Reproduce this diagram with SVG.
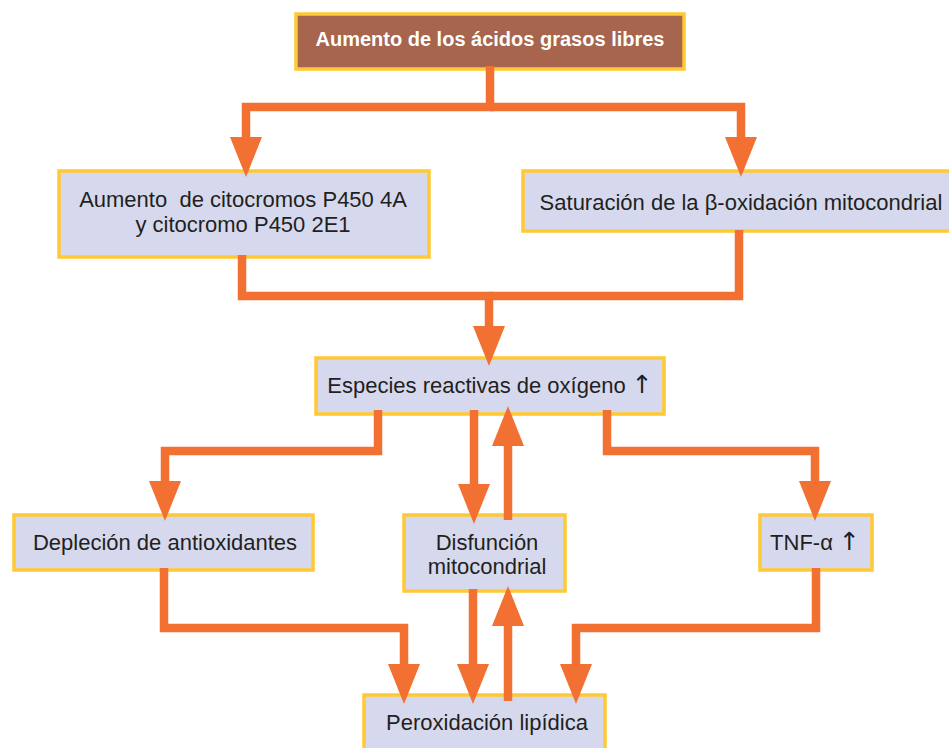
<svg xmlns="http://www.w3.org/2000/svg" width="949" height="748" viewBox="0 0 949 748">
<defs>
<style>
.box{fill:#D6D9EE;stroke:#FFC934;stroke-width:3.5}
.top{fill:#A6654C;stroke:#FFC934;stroke-width:3.5}
.t{font-family:"Liberation Sans",Arial,"DejaVu Sans",sans-serif;font-size:22px;fill:#231F20;text-anchor:middle}
.ar{font-family:"DejaVu Sans",sans-serif;font-size:25px;fill:#231F20}
.tb{font-family:"Liberation Sans",Arial,sans-serif;font-size:20px;font-weight:bold;fill:#FFFFFF;text-anchor:middle}
.c{fill:none;stroke:#F37033;stroke-width:8.5;stroke-linejoin:miter;stroke-linecap:butt}
</style>
<marker id="ah" markerUnits="userSpaceOnUse" markerWidth="42" markerHeight="34" viewBox="0 -17 42 34" refX="0" refY="0" orient="auto" overflow="visible">
<path d="M0,-16 L40,0 L0,16 Z" fill="#F37033"/>
</marker>
</defs>
<rect width="949" height="748" fill="#FFFFFF"/>
<g id="n-acidos"><rect class="top" x="296" y="14" width="388" height="55"/><text class="tb" x="490" y="46">Aumento de los ácidos grasos libres</text></g>
<g id="n-citocromos"><rect class="box" x="59" y="171" width="370" height="86"/><text class="t" x="243" y="207">Aumento&#160; de citocromos P450 4A</text><text class="t" x="243" y="232">y citocromo P450 2E1</text></g>
<g id="n-saturacion"><rect class="box" x="523" y="171" width="430" height="60"/><text class="t" x="741" y="210">Saturación de la β-oxidación mitocondrial</text></g>
<g id="n-especies"><rect class="box" x="316" y="358" width="348" height="56"/><text class="t" x="490" y="393">Especies reactivas de oxígeno <tspan class="ar">↑</tspan></text></g>
<g id="n-deplecion"><rect class="box" x="14" y="515" width="299" height="55"/><text class="t" x="165" y="550">Depleción de antioxidantes</text></g>
<g id="n-disfuncion"><rect class="box" x="404" y="515" width="161" height="76"/><text class="t" x="487" y="550">Disfunción</text><text class="t" x="487" y="574">mitocondrial</text></g>
<g id="n-tnf"><rect class="box" x="760" y="515" width="112" height="55"/><text class="t" x="815" y="550">TNF-α <tspan class="ar">↑</tspan></text></g>
<g id="n-peroxidacion"><rect class="box" x="364" y="695" width="241" height="60"/><text class="t" x="487" y="730">Peroxidación lipídica</text></g>
<g id="connectors">
<path class="c" d="M490,66 V107 H246 V137" marker-end="url(#ah)"/>
<path class="c" d="M490,107 H741 V137" marker-end="url(#ah)"/>
<path class="c" d="M242,255 V296 H489 V326" marker-end="url(#ah)"/>
<path class="c" d="M739,230 V296 H489"/>
<path class="c" d="M378,410 V451 H165 V481" marker-end="url(#ah)"/>
<path class="c" d="M474,410 V484" marker-end="url(#ah)"/>
<path class="c" d="M607,410 V451 H815 V481" marker-end="url(#ah)"/>
<path class="c" d="M508,520 V446" marker-end="url(#ah)"/>
<path class="c" d="M164,568 V628 H404 V664" marker-end="url(#ah)"/>
<path class="c" d="M473,589 V664" marker-end="url(#ah)"/>
<path class="c" d="M508,701 V626" marker-end="url(#ah)"/>
<path class="c" d="M816,568 V628 H576 V664" marker-end="url(#ah)"/>
</g>
</svg>
